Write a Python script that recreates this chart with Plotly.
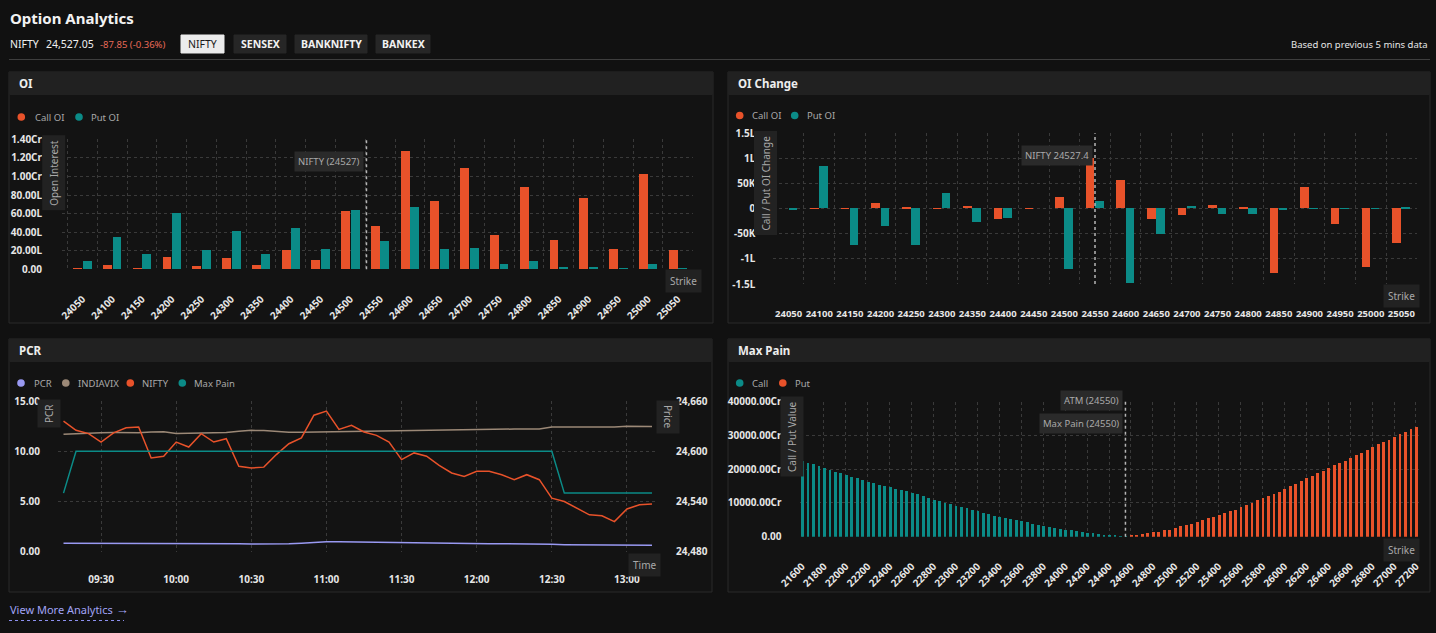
import plotly.graph_objects as go

W, H = 1436, 633

# colours
BG = "#111111"
PANEL_BG = "#131313"
HEAD_BG = "#212121"
BORDER = "#2b2b2b"
GRID = "#3a3a3a"
TICK = "#e6e6e6"
MUTED = "#a9a9a9"
BOX = "#2a2a2a"
ORANGE = "#e8522a"
TEAL = "#0b8b87"
LAVENDER = "#9999f2"
TAN = "#9c8977"
FONT = "Noto Sans"

# ---------------- OI (values in lakhs) ----------------
oi_strikes = [24050, 24100, 24150, 24200, 24250, 24300, 24350, 24400, 24450, 24500, 24550,
              24600, 24650, 24700, 24750, 24800, 24850, 24900, 24950, 25000, 25050]
oi_call = [1.0, 4.3, 1.0, 13.3, 3.0, 12.2, 4.3, 20.0, 10.0, 62.0, 46.0,
           127.5, 73.0, 108.4, 36.6, 88.7, 31.0, 76.5, 22.0, 102.7, 21.0]
oi_put = [9.0, 34.5, 16.0, 60.3, 21.0, 41.3, 16.0, 44.0, 22.0, 64.0, 30.5,
          66.4, 22.0, 22.6, 5.0, 9.0, 2.0, 2.5, 1.0, 5.7, 1.0]
oi_ticks = [0, 20, 40, 60, 80, 100, 120, 140]
oi_tick_text = ["0.00", "20.00L", "40.00L", "60.00L", "80.00L", "1.00Cr", "1.20Cr", "1.40Cr"]
nifty_spot = 24527

# ---------------- OI change ----------------
chg_call = [0, -1000, -1000, 11000, 3000, -1000, 5000, -21000, -1000, 23000, 100000,
            57000, -22000, -14000, 7000, 3000, -128000, 43000, -32000, -117000, -68000]
chg_put = [-2000, 85000, -72000, -36000, -73000, 31000, -27000, -19000, 0, -120000, 14000,
           -148000, -51000, 4000, -11000, -11000, -3000, -1000, -1000, -1000, 1000]
chg_ticks = [-150000, -100000, -50000, 0, 50000, 100000, 150000]
chg_tick_text = ["-1.5L", "-1L", "-50K", "0", "50K", "1L", "1.5L"]
chg_marker = 24550

# ---------------- PCR ----------------
pcr_times = ["09:15", "09:20", "09:25", "09:30", "09:35", "09:40", "09:45", "09:50", "09:55", "10:00", "10:05", "10:10",
             "10:15", "10:20", "10:25", "10:30", "10:35", "10:40", "10:45", "10:50", "10:55", "11:00", "11:05", "11:10",
             "11:15", "11:20", "11:25", "11:30", "11:35", "11:40", "11:45", "11:50", "11:55", "12:00", "12:05", "12:10",
             "12:15", "12:20", "12:25", "12:30", "12:35", "12:40", "12:45", "12:50", "12:55", "13:00", "13:05", "13:10"]
pcr = [0.83, 0.83, 0.84, 0.84, 0.83, 0.84, 0.85, 0.84, 0.84, 0.83, 0.83, 0.84,
       0.84, 0.82, 0.78, 0.76, 0.76, 0.77, 0.80, 0.85, 0.95, 1.00, 0.98, 0.96,
       0.96, 0.95, 0.92, 0.90, 0.90, 0.88, 0.84, 0.82, 0.80, 0.80, 0.80, 0.79,
       0.79, 0.78, 0.77, 0.73, 0.70, 0.70, 0.68, 0.66, 0.63, 0.63, 0.63, 0.63]
indiavix = [11.68, 11.75, 11.80, 11.85, 11.86, 11.86, 11.84, 11.92, 11.95, 11.76, 11.80, 11.82,
            11.84, 11.86, 12.00, 12.08, 12.06, 11.98, 11.88, 11.88, 11.90, 11.91, 11.93, 11.95,
            12.00, 12.03, 12.06, 12.08, 12.10, 12.10, 12.14, 12.18, 12.20, 12.21, 12.21, 12.22,
            12.21, 12.22, 12.21, 12.41, 12.40, 12.40, 12.38, 12.40, 12.42, 12.48, 12.47, 12.45]
nifty = [24636, 24625, 24621, 24611, 24622, 24628, 24629, 24592, 24594, 24611, 24605, 24621,
         24611, 24615, 24582, 24580, 24581, 24596, 24609, 24616, 24643, 24648, 24626, 24631,
         24623, 24619, 24611, 24590, 24598, 24594, 24583, 24574, 24570, 24576, 24576, 24572,
         24566, 24572, 24566, 24544, 24540, 24532, 24524, 24523, 24516, 24531, 24536, 24537]
max_pain_line = [24550, 24600, 24600, 24600, 24600, 24600, 24600, 24600, 24600, 24600, 24600, 24600,
                 24600, 24600, 24600, 24600, 24600, 24600, 24600, 24600, 24600, 24600, 24600, 24600,
                 24600, 24600, 24600, 24600, 24600, 24600, 24600, 24600, 24600, 24600, 24600, 24600,
                 24600, 24600, 24600, 24600, 24550, 24550, 24550, 24550, 24550, 24550, 24550, 24550]
pcr_date = "2024-12-12 "
price_ticks = [24480, 24540, 24600, 24660]

# ---------------- Max Pain (values in Cr) ----------------
mp_call_strikes = list(range(21600, 24551, 50))
mp_call = [22500, 22050, 21500, 20900, 20300, 19850, 19400, 18900, 18400, 17900, 17400, 16900,
           16400, 16000, 15550, 15100, 14700, 14300, 13900, 13500, 13100, 12600, 12100, 11600,
           11100, 10650, 10200, 9750, 9300, 8850, 8450, 8000, 7600, 7150, 6750, 6300,
           5900, 5550, 5250, 4900, 4600, 4300, 4000, 3700, 3400, 3100, 2800, 2500,
           2200, 1950, 1750, 1500, 1300, 1100, 900, 700, 500, 380, 250, 120]
mp_put_strikes = list(range(24600, 27201, 50))
mp_put = [400, 600, 800, 1200, 1400, 1600, 2000, 2200, 2750, 3150, 3550, 3950,
          4550, 4950, 5500, 5900, 6500, 7200, 7700, 8100, 8850, 9450, 10150, 10850,
          11450, 12100, 12700, 13300, 14200, 15000, 15750, 16450, 17350, 18150, 18900, 19600,
          20500, 21300, 22000, 22650, 23550, 24250, 25000, 25700, 26700, 27500, 28250, 28850,
          29650, 30450, 31200, 31900, 32700]
mp_ticks = [0, 10000, 20000, 30000, 40000]
mp_tick_text = ["0.00", "10000.00Cr", "20000.00Cr", "30000.00Cr", "40000.00Cr"]
atm_strike = 24550
max_pain_strike = 24550


def fx(p):
    return p / W


def fy(p):
    return 1 - p / H


fig = go.Figure()

# OI bars
fig.add_trace(go.Bar(x=oi_strikes, y=oi_call, offset=-15.5, width=15, marker=dict(color=ORANGE, line_width=0),
                     xaxis="x", yaxis="y", name="Call OI"))
fig.add_trace(go.Bar(x=oi_strikes, y=oi_put, offset=0.5, width=15, marker=dict(color=TEAL, line_width=0),
                     xaxis="x", yaxis="y", name="Put OI"))

# OI change bars
fig.add_trace(go.Bar(x=oi_strikes, y=chg_call, offset=-14.5, width=14, marker=dict(color=ORANGE, line_width=0),
                     xaxis="x2", yaxis="y2", name="Call OI"))
fig.add_trace(go.Bar(x=oi_strikes, y=chg_put, offset=0.5, width=14, marker=dict(color=TEAL, line_width=0),
                     xaxis="x2", yaxis="y2", name="Put OI"))

# PCR lines
t = [pcr_date + s for s in pcr_times]
fig.add_trace(go.Scatter(x=t, y=pcr, mode="lines", line=dict(color=LAVENDER, width=1.5),
                         xaxis="x3", yaxis="y3", name="PCR"))
fig.add_trace(go.Scatter(x=t, y=indiavix, mode="lines", line=dict(color=TAN, width=1.5),
                         xaxis="x3", yaxis="y3", name="INDIAVIX"))
fig.add_trace(go.Scatter(x=t, y=nifty, mode="lines", line=dict(color=ORANGE, width=1.5),
                         xaxis="x3", yaxis="y4", name="NIFTY"))
fig.add_trace(go.Scatter(x=t, y=max_pain_line, mode="lines", line=dict(color=TEAL, width=1.5),
                         xaxis="x3", yaxis="y4", name="Max Pain"))

# Max pain bars
fig.add_trace(go.Bar(x=mp_call_strikes, y=mp_call, width=26, marker=dict(color=TEAL, line_width=0),
                     xaxis="x4", yaxis="y5", name="Call"))
fig.add_trace(go.Bar(x=mp_put_strikes, y=mp_put, width=26, marker=dict(color=ORANGE, line_width=0),
                     xaxis="x4", yaxis="y5", name="Put"))

tickfont = dict(family=FONT, size=10, color=TICK, weight="bold")
strikefont = dict(family=FONT, size=9.5, color=TICK, weight="bold")


def xax(d0, d1, anchor, **kw):
    a = dict(domain=[fx(d0), fx(d1)], anchor=anchor, showgrid=False, zeroline=False, showline=False,
             ticks="", tickfont=tickfont, automargin=False, fixedrange=True)
    a.update(kw)
    return a


def yax(top, bottom, anchor, **kw):
    a = dict(domain=[fy(bottom), fy(top)], anchor=anchor, showgrid=True, gridcolor=GRID, griddash="dot",
             gridwidth=1, zeroline=False, showline=False, ticks="", tickfont=tickfont,
             automargin=False, fixedrange=True, ticklabelstandoff=17)
    a.update(kw)
    return a


minor_grid = dict(tick0=24025, dtick=50, showgrid=True, gridcolor=GRID, griddash="dot", ticks="")

fig.update_layout(
    xaxis=xax(62, 693, "y", range=[24015.6, 25075.5], tickvals=oi_strikes, ticktext=[str(s) for s in oi_strikes],
              tickangle=-45, ticklabelstandoff=21, minor=minor_grid),
    yaxis=yax(139.3, 269.3, "x", range=[0, 140], tickvals=oi_ticks, ticktext=oi_tick_text, ticklabelstandoff=19),
    xaxis2=xax(773.3, 1417, "y2", range=[24025, 25075.5], tickvals=oi_strikes, ticktext=[str(s) for s in oi_strikes],
               tickangle=0, ticklabelstandoff=22, minor=minor_grid, tickfont=strikefont),
    yaxis2=yax(133.3, 284, "x2", range=[-150000, 150000], tickvals=chg_ticks, ticktext=chg_tick_text),
    xaxis3=xax(58, 658, "y3", type="date", range=[pcr_date + "09:12:48", pcr_date + "13:12:24"],
               tickformat="%H:%M", dtick=1800000, tick0=pcr_date + "09:00", showgrid=True, gridcolor=GRID,
               griddash="dot", ticklabelstandoff=20),
    yaxis3=yax(401, 551.7, "x3", range=[0, 15], tickvals=[0, 5, 10, 15], tickformat=".2f"),
    yaxis4=yax(401, 551.7, "x3", overlaying="y3", side="right", range=[24480, 24660], tickvals=price_ticks,
               tickformat=",d", showgrid=False),
    xaxis4=xax(799.5, 1418.5, "y5", range=[21577, 27223], tick0=21600, dtick=200, tickangle=-45,
               tickformat="d", showgrid=True, gridcolor=GRID, griddash="dot", ticklabelstandoff=21),
    yaxis5=yax(401.7, 536.7, "x4", range=[0, 40000], tickvals=mp_ticks, ticktext=mp_tick_text),
)

shapes = []
annotations = []


def text(x, y, s, size=11, color=TICK, anchor="left", weight="normal", **kw):
    d = dict(x=fx(x), y=fy(y), xref="paper", yref="paper", text=s, showarrow=False, xanchor=anchor,
             yanchor="middle", font=dict(family=FONT, size=size, color=color, weight=weight))
    d.update(kw)
    annotations.append(d)


def rect(x0, y0, x1, y1, fill, line=None):
    shapes.append(dict(type="rect", xref="paper", yref="paper", x0=fx(x0), x1=fx(x1), y0=fy(y1), y1=fy(y0),
                       fillcolor=fill, line=dict(color=line or fill, width=1), layer="below"))


# page header
text(8, 18, "Option Analytics", size=15, color="#f2f2f2", weight="bold")
text(8, 44, "NIFTY", size=10.5, color="#f0f0f0")
text(44, 44, "24,527.05", size=10.5, color="#f0f0f0")
text(98, 44, "-87.85 (-0.36%)", size=9.5, color="#e86a58")
buttons = [("NIFTY", 181, 224), ("SENSEX", 234, 286), ("BANKNIFTY", 295, 367), ("BANKEX", 376, 430)]
for i, (lbl, bx0, bx1) in enumerate(buttons):
    rect(bx0, 35, bx1, 53, "#ececec" if i == 0 else "#262626")
    text((bx0 + bx1) / 2, 44, lbl, size=10.5, color="#1a1a1a" if i == 0 else "#f2f2f2",
         anchor="center", weight="normal" if i == 0 else "bold")
text(1430, 44, "Based on previous 5 mins data", size=9.5, color="#e6e6e6", anchor="right")
shapes.append(dict(type="line", xref="paper", yref="paper", x0=fx(9), x1=fx(1430), y0=fy(59.5), y1=fy(59.5),
                   line=dict(color="#3e3e3e", width=1)))

# panels
panels = [("OI", 9, 72, 713, 323), ("OI Change", 728, 72, 1430, 323),
          ("PCR", 9, 339, 712, 592), ("Max Pain", 728, 339, 1430, 592)]
for title, px0, py0, px1, py1 in panels:
    rect(px0, py0, px1, py1, PANEL_BG, BORDER)
    rect(px0 + 0.5, py0 + 0.5, px1 - 0.5, py0 + 22.5, HEAD_BG)
    text(px0 + 8, py0 + 11.5, title, size=11.5, color="#ededed", weight="bold")

# hand-drawn legends (round markers, tight spacing)
legends = [
    (117, [(21.3, 33, "Call OI", ORANGE), (79, 88.5, "Put OI", TEAL)]),
    (115.5, [(739.7, 750, "Call OI", ORANGE), (794.7, 805, "Put OI", TEAL)]),
    (383, [(21, 31.5, "PCR", LAVENDER), (65.8, 75.5, "INDIAVIX", TAN),
           (130.3, 140, "NIFTY", ORANGE), (182.3, 191.5, "Max Pain", TEAL)]),
    (383, [(739.7, 750, "Call", TEAL), (782.8, 792.5, "Put", ORANGE)]),
]
for ly, items in legends:
    for cx, tx, lbl, col in items:
        shapes.append(dict(type="circle", xref="paper", yref="paper", x0=fx(cx - 3.8), x1=fx(cx + 3.8),
                           y0=fy(ly + 3.8), y1=fy(ly - 3.8), fillcolor=col, line=dict(width=0)))
        text(tx, ly, lbl, size=9.5, color=MUTED)

# spot / ATM markers
def vline(xval, xref, yref):
    shapes.append(dict(type="line", xref=xref, yref=yref + " domain", x0=xval, x1=xval, y0=0, y1=1,
                       line=dict(color="#b5b5b5", width=1.5, dash="dot")))


vline(nifty_spot, "x", "y")
vline(chg_marker, "x2", "y2")
vline(atm_strike, "x4", "y5")


def tag(xval, xref, y, s, anchor="right"):
    annotations.append(dict(x=xval, xref=xref, y=fy(y), yref="paper", text=s, showarrow=False, xanchor=anchor,
                            yanchor="middle", xshift=-2, bgcolor=BOX, borderpad=3,
                            font=dict(family=FONT, size=9.5, color=MUTED)))


tag(nifty_spot, "x", 161.5, "NIFTY (24527)")
tag(chg_marker, "x2", 155, "NIFTY 24527.4")
tag(atm_strike, "x4", 401, "ATM (24550)")
tag(max_pain_strike, "x4", 423, "Max Pain (24550)")


def boxlabel(cx, cy, s, angle=0):
    text(cx, cy, s, size=10, color=MUTED, anchor="center", bgcolor="#222222", borderpad=4, textangle=angle)


boxlabel(53.7, 173, "Open Interest", -90)
boxlabel(765.5, 183, "Call / Put OI Change", -90)
boxlabel(49, 414, "PCR", -90)
boxlabel(668, 417, "Price", 90)
boxlabel(792, 437, "Call / Put Value", -90)
boxlabel(683, 281, "Strike")
boxlabel(1401, 296, "Strike")
boxlabel(1401, 549.5, "Strike")
boxlabel(644, 564.5, "Time")

# footer link
text(8, 609, "View More Analytics <span style='font-size:13px'>\u2192</span>", size=11, color="#a2a4f6")
shapes.append(dict(type="line", xref="paper", yref="paper", x0=fx(9), x1=fx(124), y0=fy(620.5), y1=fy(620.5),
                   line=dict(color="#8d90ee", width=1, dash="dot")))

fig.update_layout(
    width=W, height=H, margin=dict(l=0, r=0, t=0, b=0),
    paper_bgcolor=BG, plot_bgcolor="rgba(0,0,0,0)",
    showlegend=False, barmode="overlay", bargap=0,
    font=dict(family=FONT, color=TICK),
    shapes=shapes, annotations=annotations,
)

# drop the default body margin so the figure fills the 1436x633 window
fig.write_html("out.html", config={"displayModeBar": False},
               post_script="document.body.style.margin='0';document.body.style.background='#111111';")
